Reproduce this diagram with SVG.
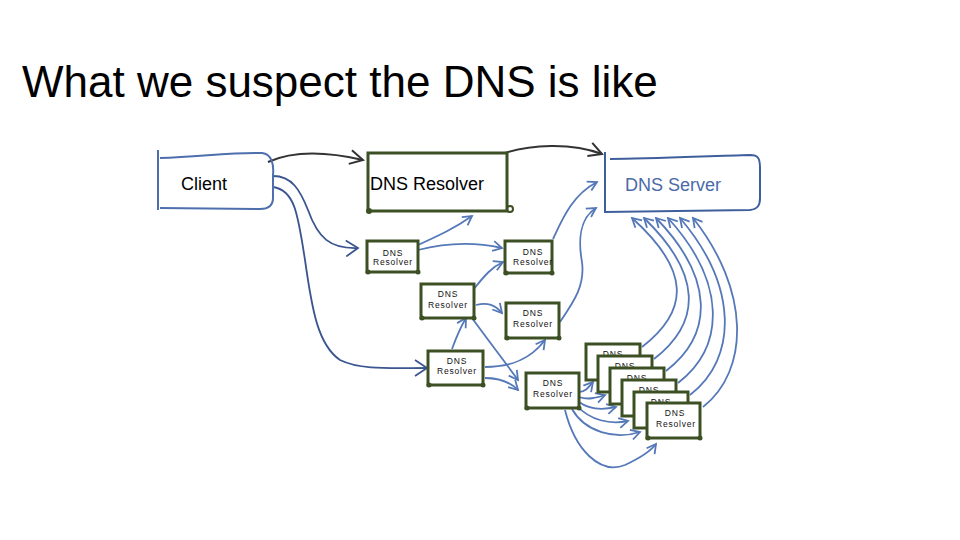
<svg xmlns="http://www.w3.org/2000/svg" width="960" height="540" viewBox="0 0 960 540">
<style>
.title{font-family:"Liberation Sans",Arial,sans-serif;font-size:44px;fill:#000}
.lbl{font-family:"Liberation Sans",Arial,sans-serif;font-size:18px;fill:#000}
.srv{font-family:"Liberation Sans",Arial,sans-serif;font-size:18px;fill:#4a6aa8}
.sm{font-family:"Liberation Sans",Arial,sans-serif;font-size:8.5px;letter-spacing:0.8px;fill:#111;text-anchor:middle}
.gbox{fill:#fff;stroke:#3c5024;stroke-width:3}
.dot{fill:#3c5024}
.blk{fill:none;stroke:#333;stroke-width:2;marker-end:url(#ak)}
.dblue{fill:none;stroke:#3a5590;stroke-width:1.8;marker-end:url(#ad)}
.blue{fill:none;stroke:#5578b8;stroke-width:1.8;marker-end:url(#ab)}
</style>
<defs>
<marker id="ak" viewBox="-14 -9 16 18" refX="0" refY="0" markerWidth="16" markerHeight="18" markerUnits="userSpaceOnUse" orient="auto"><path d="M-13,-7 L0,0 L-13,7" fill="none" stroke="#333" stroke-width="2"/></marker>
<marker id="ad" viewBox="-14 -9 16 18" refX="0" refY="0" markerWidth="16" markerHeight="18" markerUnits="userSpaceOnUse" orient="auto"><path d="M-12,-8 L0,0 L-12,8" fill="none" stroke="#3a5590" stroke-width="1.8"/></marker>
<marker id="ab" viewBox="-12 -8 14 16" refX="0" refY="0" markerWidth="14" markerHeight="16" markerUnits="userSpaceOnUse" orient="auto"><path d="M-9,-5 L0,0 L-9,5" fill="none" stroke="#5578b8" stroke-width="1.8"/></marker>
</defs>
<rect width="960" height="540" fill="#fff"/>
<text class="title" x="22" y="97">What we suspect the DNS is like</text>

<g id="connectors">
<path class="blk" d="M268,162 C290,152 320,150 363,160"/>
<path class="blk" d="M505,153 C530,145 570,142 602,154"/>
<path class="dblue" d="M273,176 C292,176 300,190 308,210 C318,238 330,249 358,248"/>
<path class="dblue" d="M273,187 C295,190 298,215 305,260 C312,310 318,345 340,360 C360,370 390,368 427,368"/>
<path class="blue" d="M418,245 C440,235 455,228 472,216"/>
<path class="blue" d="M418,250 C445,243 475,242 502,248"/>
<path class="blue" d="M553,239 C562,220 572,195 597,182"/>
<path class="blue" d="M560,322 C575,300 585,285 582,262 C578,240 580,218 596,208"/>
<path class="blue" d="M473,290 C485,275 492,267 503,262"/>
<path class="blue" d="M476,305 C488,302 495,305 502,313"/>
<path class="blue" d="M472,318 C488,340 505,362 518,380"/>
<path class="blue" d="M452,349 C456,338 460,328 466,318"/>
<path class="blue" d="M485,367 C510,367 530,360 545,340"/>
<path class="blue" d="M485,378 C500,378 510,382 518,390"/>
<path class="blue" d="M579,392 C585,392 588,388 593,382"/>
<path class="blue" d="M579,397 C588,400 596,398 605,395"/>
<path class="blue" d="M579,402 C590,410 603,410 616,407"/>
<path class="blue" d="M577,406 C590,420 610,425 628,421"/>
<path class="blue" d="M572,409 C585,432 615,440 640,432"/>
<path class="blue" d="M565,410 C575,450 600,475 625,465 C640,458 650,452 656,444"/>
<path class="blue" d="M642,347 C690,310 690,270 632,218"/>
<path class="blue" d="M654,359 C702,322 702,274 644,218"/>
<path class="blue" d="M666,371 C714,334 714,278 656,218"/>
<path class="blue" d="M678,383 C726,346 726,282 668,218"/>
<path class="blue" d="M690,395 C738,358 738,286 680,218"/>
<path class="blue" d="M703,407 C750,370 750,290 693,218"/>
</g>

<g id="client">
<path d="M158,150 L158,210 M160,158 C200,157 230,152 262,153 C272,154 274,165 273,175 L273,198 C273,206 268,209 260,209 L160,208" fill="none" stroke="#4d6fae" stroke-width="2"/>
<text class="lbl" x="181" y="190">Client</text>
</g>

<g id="dns-resolver-main">
<rect class="gbox" x="368" y="153" width="139" height="58" stroke-width="3.5"/>
<circle class="dot" cx="369" cy="211" r="3"/>
<circle cx="510" cy="209" r="3" fill="none" stroke="#3c5024" stroke-width="2"/>
<text class="lbl" x="370" y="190">DNS Resolver</text>
</g>

<g id="dns-server">
<path d="M605,152 L605,212 L750,210 C758,209 760,205 760,198 L760,168 C760,158 758,155 750,155 C710,156 650,159 610,159" fill="none" stroke="#3f5f9c" stroke-width="2"/>
<text class="srv" x="625" y="191">DNS Server</text>
</g>

<g id="r1">
<rect class="gbox" x="367" y="241" width="51" height="31"/>
<circle class="dot" cx="368" cy="272" r="2.5"/><circle class="dot" cx="418" cy="272" r="2.5"/>
<text class="sm" x="393" y="256">DNS</text><text class="sm" x="393" y="265">Resolver</text>
</g>
<g id="r2">
<rect class="gbox" x="505" y="241" width="47" height="32"/>
<circle class="dot" cx="506" cy="273" r="2.5"/><circle class="dot" cx="552" cy="273" r="2.5"/>
<text class="sm" x="533" y="255">DNS</text><text class="sm" x="533" y="265">Resolver</text>
</g>
<g id="r3">
<rect class="gbox" x="421" y="284" width="53" height="34"/>
<circle class="dot" cx="422" cy="318" r="2.5"/><circle class="dot" cx="474" cy="318" r="2.5"/>
<text class="sm" x="448" y="297">DNS</text><text class="sm" x="448" y="308">Resolver</text>
</g>
<g id="r4">
<rect class="gbox" x="506" y="303" width="53" height="35"/>
<circle class="dot" cx="507" cy="338" r="2.5"/><circle class="dot" cx="559" cy="338" r="2.5"/>
<text class="sm" x="533" y="316">DNS</text><text class="sm" x="533" y="327">Resolver</text>
</g>
<g id="r5">
<rect class="gbox" x="428" y="351" width="55" height="34"/>
<circle class="dot" cx="429" cy="385" r="2.5"/><circle class="dot" cx="483" cy="385" r="2.5"/>
<text class="sm" x="457" y="364">DNS</text><text class="sm" x="457" y="374">Resolver</text>
</g>
<g id="r6">
<rect class="gbox" x="526" y="373" width="53" height="35"/>
<circle class="dot" cx="527" cy="408" r="2.5"/><circle class="dot" cx="579" cy="408" r="2.5"/>
<text class="sm" x="553" y="386">DNS</text><text class="sm" x="553" y="397">Resolver</text>
</g>

<g id="stack1">
<rect class="gbox" x="586" y="344" width="54" height="36"/>
<text class="sm" x="613" y="357">DNS</text>
</g>
<g id="stack2">
<rect class="gbox" x="598" y="356" width="54" height="36"/>
<text class="sm" x="625" y="369">DNS</text>
</g>
<g id="stack3">
<rect class="gbox" x="610" y="368" width="54" height="36"/>
<text class="sm" x="637" y="381">DNS</text>
</g>
<g id="stack4">
<rect class="gbox" x="622" y="380" width="54" height="36"/>
<text class="sm" x="649" y="393">DNS</text>
</g>
<g id="stack5">
<rect class="gbox" x="634" y="392" width="54" height="36"/>
<text class="sm" x="661" y="405">DNS</text>
</g>
<g id="stack6">
<rect class="gbox" x="647" y="403" width="53" height="35"/>
<circle class="dot" cx="648" cy="438" r="2.5"/><circle class="dot" cx="700" cy="438" r="2.5"/>
<text class="sm" x="675" y="416">DNS</text><text class="sm" x="676" y="427">Resolver</text>
</g>
</svg>
